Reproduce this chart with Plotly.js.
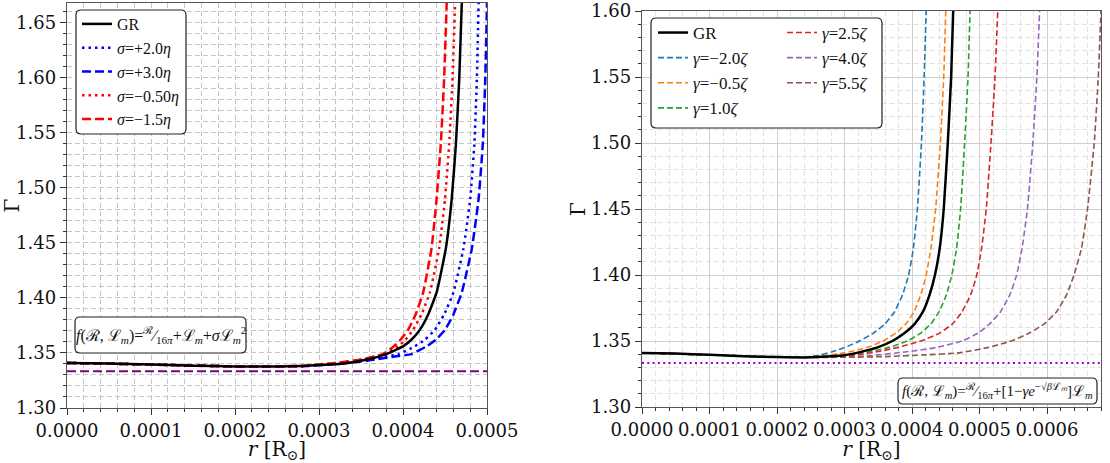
<!DOCTYPE html>
<html>
<head>
<meta charset="utf-8">
<script src="https://cdn.plot.ly/plotly-3.0.1.min.js"></script>
<style>body{margin:0;background:#fff}#chart{width:1110px;height:463px}</style>
</head>
<body>
<div id="chart"></div>
<script>
// reference adiabatic index 4/3
const gammaRef = 4 / 3;

// left panel: f = R/16pi + Lm + sigma Lm^2
const rGRleft = [0, 0.00005, 0.0001, 0.00015, 0.0002, 0.00025, 0.00028, 0.0003, 0.00033, 0.00036, 0.00038, 0.0004, 0.00041, 0.00042, 0.00043, 0.00044, 0.000451, 0.000458, 0.000463, 0.000467, 0.00047];
const gGRleft = [1.341, 1.3405, 1.3395, 1.3385, 1.3378, 1.3376, 1.3382, 1.339, 1.3405, 1.3445, 1.349, 1.356, 1.362, 1.371, 1.385, 1.405, 1.445, 1.49, 1.54, 1.60, 1.668];
const sigmaNames = ['<i>σ</i>=+2.0<i>η</i>', '<i>σ</i>=+3.0<i>η</i>', '<i>σ</i>=−0.50<i>η</i>', '<i>σ</i>=−1.5<i>η</i>'];
const rSigP2 = [0, 0.0001, 0.0002, 0.00028, 0.00032, 0.00035, 0.00037, 0.000395, 0.000414, 0.000426, 0.000438, 0.000449, 0.00046, 0.000472, 0.00048, 0.000485, 0.000488, 0.00049];
const gSigP2 = [1.341, 1.3395, 1.3378, 1.338, 1.3402, 1.3428, 1.3455, 1.349, 1.356, 1.362, 1.371, 1.385, 1.405, 1.445, 1.49, 1.54, 1.60, 1.668];
const rSigP3 = [0, 0.0001, 0.0002, 0.00028, 0.00032, 0.00035, 0.00037, 0.00039, 0.00041, 0.000428, 0.000439, 0.00045, 0.00046, 0.00047, 0.000482, 0.00049, 0.000495, 0.000498, 0.0005];
const gSigP3 = [1.341, 1.3395, 1.3378, 1.338, 1.340, 1.3422, 1.3445, 1.3467, 1.349, 1.356, 1.362, 1.371, 1.385, 1.405, 1.445, 1.49, 1.54, 1.60, 1.668];
const rSigM05 = [0, 0.0001, 0.0002, 0.00028, 0.00032, 0.00035, 0.000378, 0.000394, 0.000403, 0.000412, 0.000422, 0.000432, 0.000443, 0.00045, 0.000455, 0.000459, 0.000462];
const gSigM05 = [1.341, 1.3395, 1.3378, 1.3382, 1.3408, 1.3438, 1.349, 1.356, 1.362, 1.371, 1.385, 1.405, 1.445, 1.49, 1.54, 1.60, 1.668];
const rSigM15 = [0, 0.0001, 0.0002, 0.00028, 0.00032, 0.00035, 0.000376, 0.000389, 0.000397, 0.000406, 0.000415, 0.000424, 0.000434, 0.00044, 0.000445, 0.000449, 0.000452];
const gSigM15 = [1.341, 1.3395, 1.3378, 1.3383, 1.341, 1.344, 1.349, 1.356, 1.362, 1.371, 1.385, 1.405, 1.445, 1.49, 1.54, 1.60, 1.668];

// right panel: f = R/16pi + [1 - gamma e^{-sqrt(beta Lm)}] Lm
const rGRright = [0, 0.00005, 0.0001, 0.00015, 0.0002, 0.00025, 0.0003, 0.00033, 0.000348, 0.000371, 0.000389, 0.000404, 0.000416, 0.000426, 0.000434, 0.000441, 0.000447, 0.000453, 0.000458, 0.000461];
const gGRright = [1.341, 1.3405, 1.3395, 1.3385, 1.3378, 1.3376, 1.3392, 1.3425, 1.345, 1.35, 1.356, 1.363, 1.372, 1.385, 1.40, 1.42, 1.45, 1.50, 1.55, 1.60];
const gammaNames = ['<i>γ</i>=−2.0<i>ζ</i>', '<i>γ</i>=−0.5<i>ζ</i>', '<i>γ</i>=1.0<i>ζ</i>', '<i>γ</i>=2.5<i>ζ</i>', '<i>γ</i>=4.0<i>ζ</i>', '<i>γ</i>=5.5<i>ζ</i>'];
const rGamM20 = [0, 0.0001, 0.0002, 0.00024, 0.00026, 0.00028, 0.0003, 0.000322, 0.000343, 0.00036, 0.000374, 0.000386, 0.000395, 0.000402, 0.000408, 0.000414, 0.000418, 0.000421];
const gGamM20 = [1.341, 1.3395, 1.3378, 1.3378, 1.339, 1.3415, 1.345, 1.35, 1.356, 1.363, 1.372, 1.385, 1.40, 1.42, 1.45, 1.50, 1.55, 1.60];
const rGamM05 = [0, 0.0001, 0.0002, 0.00026, 0.0003, 0.000333, 0.000357, 0.000376, 0.000391, 0.000403, 0.000413, 0.000421, 0.000428, 0.000435, 0.000442, 0.000447, 0.00045];
const gGamM05 = [1.341, 1.3395, 1.3378, 1.3382, 1.341, 1.345, 1.35, 1.356, 1.363, 1.372, 1.385, 1.40, 1.42, 1.45, 1.50, 1.55, 1.60];
const rGam10 = [0, 0.0001, 0.0002, 0.00028, 0.0003, 0.00033, 0.000365, 0.000393, 0.000413, 0.000428, 0.00044, 0.000451, 0.000459, 0.000466, 0.000472, 0.000478, 0.000483, 0.000486];
const gGam10 = [1.341, 1.3395, 1.3378, 1.338, 1.339, 1.3412, 1.345, 1.35, 1.356, 1.363, 1.372, 1.385, 1.40, 1.42, 1.45, 1.50, 1.55, 1.60];
const rGam25 = [0, 0.0001, 0.0002, 0.00029, 0.00032, 0.00035, 0.000378, 0.000413, 0.000441, 0.00046, 0.000474, 0.000487, 0.000496, 0.000503, 0.00051, 0.000517, 0.000523, 0.000527];
const gGam25 = [1.341, 1.3395, 1.3378, 1.3378, 1.3395, 1.342, 1.345, 1.35, 1.356, 1.363, 1.372, 1.385, 1.40, 1.42, 1.45, 1.50, 1.55, 1.60];
const rGam40 = [0, 0.0001, 0.0002, 0.0003, 0.00034, 0.000395, 0.000435, 0.000474, 0.000498, 0.000515, 0.000531, 0.000545, 0.000555, 0.000563, 0.000571, 0.000579, 0.000585, 0.000589];
const gGam40 = [1.341, 1.3395, 1.3378, 1.3377, 1.339, 1.342, 1.345, 1.35, 1.356, 1.363, 1.372, 1.385, 1.40, 1.42, 1.45, 1.50, 1.55, 1.60];
const rGam55 = [0, 0.0001, 0.0002, 0.00031, 0.00036, 0.00042, 0.00047, 0.000512, 0.000547, 0.000574, 0.000596, 0.000614, 0.000629, 0.00064, 0.000651, 0.00066, 0.00067, 0.000676, 0.00068];
const gGam55 = [1.341, 1.3395, 1.3378, 1.3377, 1.3382, 1.3395, 1.341, 1.345, 1.35, 1.356, 1.363, 1.372, 1.385, 1.40, 1.42, 1.45, 1.50, 1.55, 1.60];

const W = 1110, H = 463;
const leftRange = [0, 0.0005], rightRange = [0, 0.00068];
const tab = ['#1f77b4', '#ff7f0e', '#2ca02c', '#d62728', '#9467bd', '#8c564b'];
const sm = {shape: 'spline', smoothing: 0.4};

function line(x, y, name, color, width, dash, axes, legend) {
    return {x: x, y: y, name: name, type: 'scatter', mode: 'lines',
        line: Object.assign({color: color, width: width, dash: dash}, sm),
        xaxis: axes[0], yaxis: axes[1], legend: legend};
}

var L = ['x', 'y'], R = ['x2', 'y2'];
var data = [
    {x: leftRange, y: [gammaRef, gammaRef], type: 'scatter', mode: 'lines', showlegend: false,
        line: {color: '#800080', width: 2, dash: '9px,4px'}, xaxis: 'x', yaxis: 'y'},
    line(rSigP2, gSigP2, sigmaNames[0], '#0000ff', 2.5, '2.5px,4px', L, 'legend'),
    line(rSigP3, gSigP3, sigmaNames[1], '#0000ff', 2.5, '9px,4px', L, 'legend'),
    line(rSigM05, gSigM05, sigmaNames[2], '#ff0000', 2.5, '2.5px,4px', L, 'legend'),
    line(rSigM15, gSigM15, sigmaNames[3], '#ff0000', 2.5, '9px,4px', L, 'legend'),
    Object.assign(line(rGRleft, gGRleft, 'GR', '#000000', 2.5, 'solid', L, 'legend'), {legendrank: 1}),

    {x: rightRange, y: [gammaRef, gammaRef], type: 'scatter', mode: 'lines', showlegend: false,
        line: {color: '#9a00c0', width: 2, dash: '2px,3.3px'}, xaxis: 'x2', yaxis: 'y2'},
    line(rGamM20, gGamM20, gammaNames[0], tab[0], 1.6, '6px,3px', R, 'legend2'),
    line(rGamM05, gGamM05, gammaNames[1], tab[1], 1.6, '6px,3px', R, 'legend2'),
    line(rGam10, gGam10, gammaNames[2], tab[2], 1.6, '6px,3px', R, 'legend2'),
    line(rGam25, gGam25, gammaNames[3], tab[3], 1.6, '6px,3px', R, 'legend3'),
    line(rGam40, gGam40, gammaNames[4], tab[4], 1.6, '6px,3px', R, 'legend3'),
    line(rGam55, gGam55, gammaNames[5], tab[5], 1.6, '6px,3px', R, 'legend3'),
    Object.assign(line(rGRright, gGRright, 'GR', '#000000', 2.5, 'solid', R, 'legend2'), {legendrank: 1})
];

// rounded box in pixel coords -> paper path
function roundBox(x0, y0, x1, y1, rad) {
    const X = v => (v / W).toFixed(5), Y = v => (1 - v / H).toFixed(5);
    const p = 'M' + X(x0 + rad) + ',' + Y(y0) + ' L' + X(x1 - rad) + ',' + Y(y0) +
        ' Q' + X(x1) + ',' + Y(y0) + ' ' + X(x1) + ',' + Y(y0 + rad) +
        ' L' + X(x1) + ',' + Y(y1 - rad) +
        ' Q' + X(x1) + ',' + Y(y1) + ' ' + X(x1 - rad) + ',' + Y(y1) +
        ' L' + X(x0 + rad) + ',' + Y(y1) +
        ' Q' + X(x0) + ',' + Y(y1) + ' ' + X(x0) + ',' + Y(y1 - rad) +
        ' L' + X(x0) + ',' + Y(y0 + rad) +
        ' Q' + X(x0) + ',' + Y(y0) + ' ' + X(x0 + rad) + ',' + Y(y0) + ' Z';
    return {type: 'path', xref: 'paper', yref: 'paper', path: p, layer: 'above',
        fillcolor: 'white', line: {color: '#222', width: 1.2}};
}

const tickFont = {family: 'DejaVu Serif', size: 18, color: '#111'};
const titleFont = {family: 'DejaVu Serif', size: 20, color: '#111'};

function grid(left) {
    return left ? {major: '#c6c6c6', majorDash: '5px,3px', minor: '#c6c6c6'}
                : {major: '#cfcfcf', majorDash: 'solid', minor: '#e2e2e2'};
}
function xax(domain, range, anchor, left) {
    const g = grid(left);
    return {domain: domain, range: range, anchor: anchor, dtick: 0.0001, tickformat: '.4f',
        ticks: 'outside', ticklen: 6, tickcolor: '#333', tickfont: tickFont,
        showline: true, mirror: true, linecolor: '#555', linewidth: 1.2, zeroline: false,
        showgrid: true, gridcolor: g.major, griddash: g.majorDash,
        minor: {dtick: 0.00002, ticks: 'outside', ticklen: 3, tickcolor: '#333',
            showgrid: true, gridcolor: g.minor, griddash: '5px,3px'},
        title: {text: '<i>r</i> [R<sub>⊙</sub>]', font: titleFont, standoff: 11}};
}
function yax(domain, range, anchor, left) {
    const g = grid(left);
    return {domain: domain, range: range, anchor: anchor, dtick: 0.05, tickformat: '.2f',
        ticks: 'outside', ticklen: 6, tickcolor: '#333', tickfont: tickFont,
        showline: true, mirror: true, linecolor: '#555', linewidth: 1.2, zeroline: false,
        showgrid: true, gridcolor: g.major, griddash: g.majorDash,
        minor: {dtick: 0.01, ticks: 'outside', ticklen: 3, tickcolor: '#333',
            showgrid: true, gridcolor: g.minor, griddash: '5px,3px'},
        title: {text: 'Γ', font: titleFont, standoff: left ? 10 : 0}};
}

function leg(px, py, size) {
    return {x: px / W, y: 1 - py / H, xanchor: 'left', yanchor: 'top', bgcolor: 'rgba(0,0,0,0)',
        borderwidth: 0, font: {family: 'Liberation Serif', size: size, color: '#111'},
        itemwidth: 30, tracegroupgap: 0};
}

var layout = {
    width: W, height: H,
    margin: {l: 0, r: 0, t: 0, b: 0},
    paper_bgcolor: 'white', plot_bgcolor: 'white',
    font: {family: 'DejaVu Serif', color: '#111'},
    xaxis: xax([67 / W, 487 / W], leftRange, 'y', true),
    yaxis: yax([1 - 408 / H, 1 - 3 / H], [1.30, 1.668], 'x', true),
    xaxis2: xax([642 / W, 1101 / W], rightRange, 'y2', false),
    yaxis2: yax([1 - 407 / H, 1 - 11 / H], [1.30, 1.60], 'x2', false),
    legend: leg(77, 7, 16),
    legend2: leg(653, 15, 17),
    legend3: leg(782, 15, 17),
    shapes: [
        roundBox(76, 10, 186, 134, 5),
        roundBox(75, 317, 246, 353, 5),
        roundBox(651, 18, 882, 128, 5),
        roundBox(898, 378, 1097, 404, 5)
    ],
    annotations: [
        {xref: 'paper', yref: 'paper', x: 160.5 / W, y: 1 - 335 / H, xanchor: 'center', yanchor: 'middle', showarrow: false,
            font: {family: 'Liberation Serif', size: 16, color: '#111'},
            text: '<i>f</i>(ℛ, ℒ<sub><i>m</i></sub>)=<sup>ℛ</sup>⁄<sub>16<i>π</i></sub>+ℒ<sub><i>m</i></sub>+<i>σ</i>ℒ<sub><i>m</i></sub><sup>2</sup>'},
        {xref: 'paper', yref: 'paper', x: 997.5 / W, y: 1 - 391 / H, xanchor: 'center', yanchor: 'middle', showarrow: false,
            font: {family: 'Liberation Serif', size: 15, color: '#111'},
            text: '<i>f</i>(ℛ, ℒ<sub><i>m</i></sub>)=<sup>ℛ</sup>⁄<sub>16<i>π</i></sub>+[1−<i>γe</i><sup>−√<i>β</i>ℒ<i>ₘ</i></sup>]ℒ<sub><i>m</i></sub>'}
    ]
};

Plotly.newPlot('chart', data, layout, {staticPlot: true});
</script>
</body>
</html>
